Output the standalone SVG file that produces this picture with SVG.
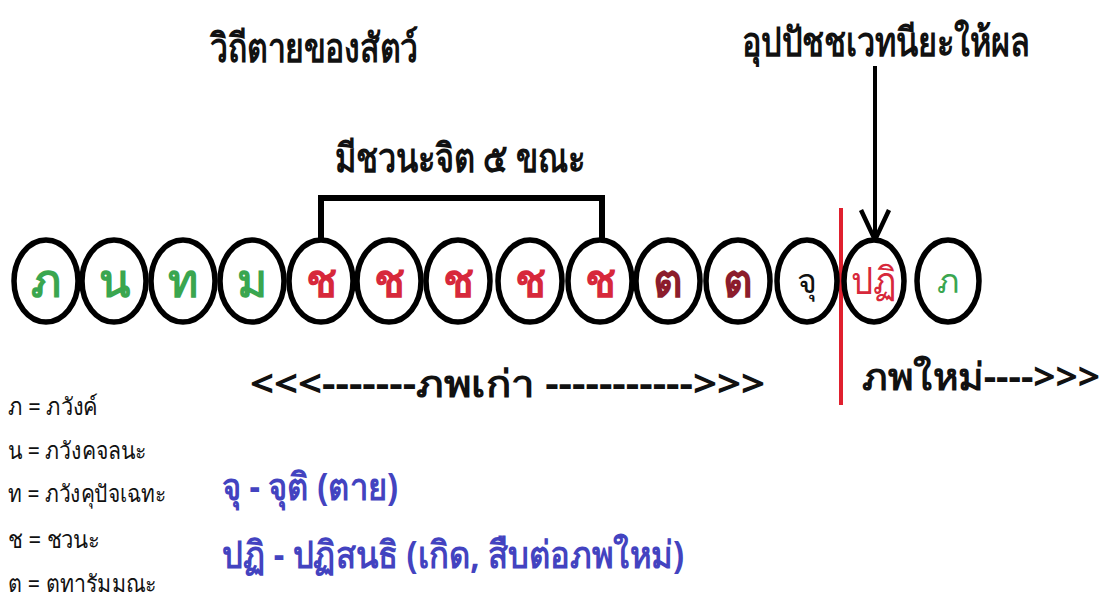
<svg xmlns="http://www.w3.org/2000/svg" width="1106" height="604" viewBox="0 0 1106 604">
  <style>
    .th { font-family: "Noto Sans", "DejaVu Sans", sans-serif; }
    .ring { fill: #fff; stroke: #000; stroke-width: 5.5; }
    .lbl { font-size: 46px; text-anchor: middle; font-weight: bold; }
    .g { fill: #3aa64f; }
    .r { fill: #d7283b; }
    .dr { fill: #8c1c2c; }
    .k { fill: #111; }
    .head { font-size: 40px; font-weight: bold; fill: #111; }
    .leg { font-size: 24px; fill: #111; }
    .blue { font-size: 38px; font-weight: bold; fill: #4343c0; }
  </style>
  <rect width="1106" height="604" fill="#fff"/>

  <text class="th head" x="210" y="62" textLength="208" lengthAdjust="spacingAndGlyphs">วิถีตายของสัตว์</text>
  <text class="th head" x="742" y="56" textLength="288" lengthAdjust="spacingAndGlyphs">อุปปัชชเวทนียะให้ผล</text>
  <text class="th head" x="335" y="172" textLength="250" lengthAdjust="spacingAndGlyphs">มีชวนะจิต ๕ ขณะ</text>

  <g id="connectors" fill="none" stroke="#000">
    <polyline points="321,238 321,198 602,198 602,238" stroke-width="6"/>
    <line x1="875" y1="66" x2="875" y2="238" stroke-width="4"/>
    <polyline points="861,210 875,240 889,210" stroke-width="4.5"/>
    <line x1="841" y1="208" x2="841" y2="405" stroke="#e0202e" stroke-width="4"/>
  </g>

  <g id="n1"><ellipse class="ring" cx="46" cy="281" rx="32" ry="41"/><text class="th lbl g" x="46" y="297">ภ</text></g>
  <g id="n2"><ellipse class="ring" cx="114" cy="281" rx="32" ry="41"/><text class="th lbl g" x="114" y="297">น</text></g>
  <g id="n3"><ellipse class="ring" cx="183" cy="281" rx="32" ry="41"/><text class="th lbl g" x="183" y="297">ท</text></g>
  <g id="n4"><ellipse class="ring" cx="252" cy="281" rx="32" ry="41"/><text class="th lbl g" x="252" y="297">ม</text></g>
  <g id="n5"><ellipse class="ring" cx="321" cy="281" rx="32" ry="41"/><text class="th lbl r" x="321" y="297">ช</text></g>
  <g id="n6"><ellipse class="ring" cx="389" cy="281" rx="32" ry="41"/><text class="th lbl r" x="389" y="297">ช</text></g>
  <g id="n7"><ellipse class="ring" cx="458" cy="281" rx="32" ry="41"/><text class="th lbl r" x="458" y="297">ช</text></g>
  <g id="n8"><ellipse class="ring" cx="530" cy="281" rx="32" ry="41"/><text class="th lbl r" x="530" y="297">ช</text></g>
  <g id="n9"><ellipse class="ring" cx="600" cy="281" rx="32" ry="41"/><text class="th lbl r" x="600" y="297">ช</text></g>
  <g id="n10"><ellipse class="ring" cx="668" cy="281" rx="32" ry="41"/><text class="th lbl dr" x="668" y="297">ต</text></g>
  <g id="n11"><ellipse class="ring" cx="738" cy="281" rx="32" ry="41"/><text class="th lbl dr" x="738" y="297">ต</text></g>
  <g id="n12"><ellipse class="ring" cx="807" cy="281" rx="30" ry="41"/><text class="th lbl k" x="807" y="293" style="font-size:34px;font-weight:normal">จุ</text></g>
  <g id="n13"><ellipse class="ring" cx="874" cy="281" rx="30" ry="41"/><text class="th lbl r" x="874" y="294" style="font-size:38px;font-weight:normal" textLength="46" lengthAdjust="spacingAndGlyphs">ปฏิ</text></g>
  <g id="n14"><ellipse class="ring" cx="948" cy="281" rx="31" ry="41"/><text class="th lbl g" x="948" y="293" style="font-size:34px;font-weight:normal">ภ</text></g>

  <text class="th" x="250" y="397" font-size="38" font-weight="bold" fill="#111" textLength="515" lengthAdjust="spacingAndGlyphs">&lt;&lt;&lt;-------ภพเก่า -----------&gt;&gt;&gt;</text>
  <text class="th" x="862" y="390" font-size="38" font-weight="bold" fill="#111" textLength="238" lengthAdjust="spacingAndGlyphs">ภพใหม่----&gt;&gt;&gt;</text>

  <g id="legend">
    <text class="th leg" x="8" y="415" textLength="90" lengthAdjust="spacingAndGlyphs">ภ = ภวังค์</text>
    <text class="th leg" x="8" y="459" textLength="139" lengthAdjust="spacingAndGlyphs">น = ภวังคจลนะ</text>
    <text class="th leg" x="8" y="502" textLength="158" lengthAdjust="spacingAndGlyphs">ท = ภวังคุปัจเฉทะ</text>
    <text class="th leg" x="8" y="548" textLength="92" lengthAdjust="spacingAndGlyphs">ช = ชวนะ</text>
    <text class="th leg" x="8" y="592" textLength="149" lengthAdjust="spacingAndGlyphs">ต = ตทารัมมณะ</text>
  </g>

  <text class="th blue" x="222" y="500" textLength="176" lengthAdjust="spacingAndGlyphs">จุ - จุติ (ตาย)</text>
  <text class="th blue" x="222" y="568" textLength="462" lengthAdjust="spacingAndGlyphs">ปฏิ - ปฏิสนธิ (เกิด, สืบต่อภพใหม่)</text>
</svg>
